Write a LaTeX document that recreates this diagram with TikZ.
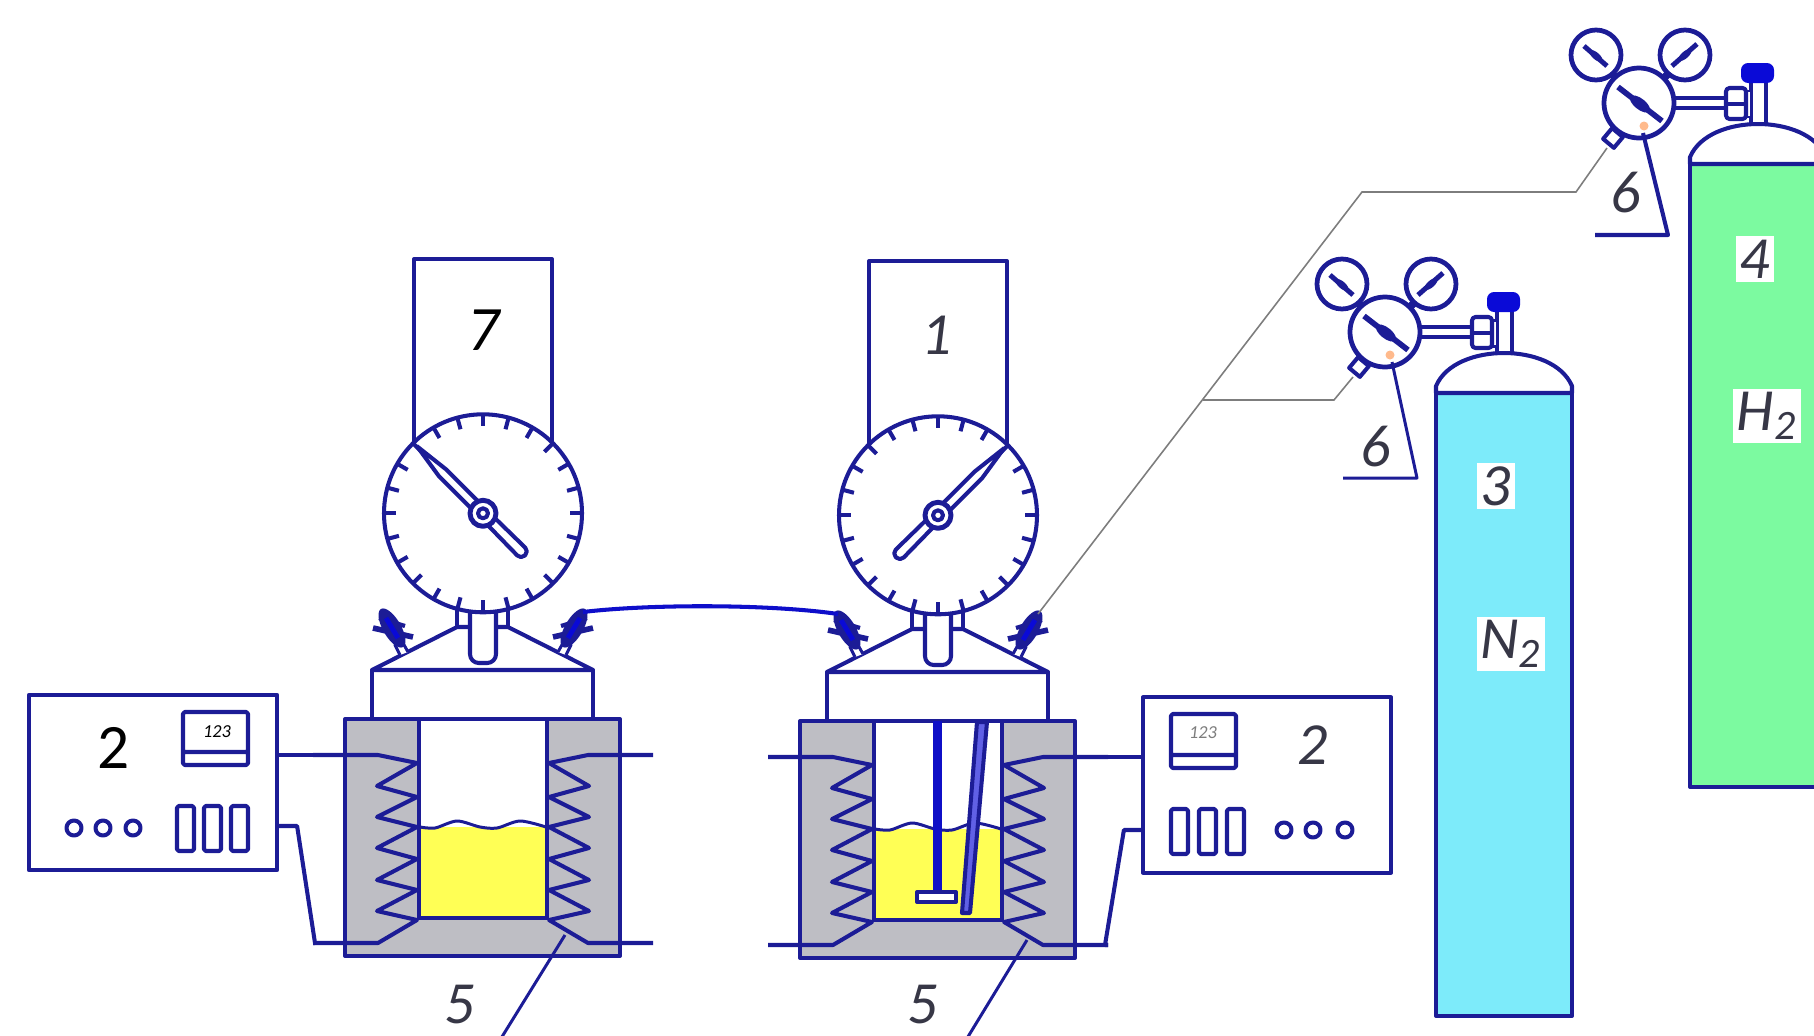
\documentclass[tikz,border=0pt]{standalone}
\usepackage{fontspec}
\setmainfont{Liberation Sans}
\newfontfamily\calfont{Carlito}
\usepackage{xcolor}
\definecolor{wireblue}{RGB}{28, 28, 150}
\definecolor{capblue}{RGB}{10, 10, 215}
\definecolor{jacketgray}{RGB}{190, 190, 196}
\definecolor{liquidyellow}{RGB}{255, 255, 85}
\definecolor{nitrogencyan}{RGB}{125, 235, 250}
\definecolor{hydrogengreen}{RGB}{124, 250, 160}
\definecolor{gasgray}{RGB}{125, 125, 125}
\definecolor{tagslate}{RGB}{55, 55, 70}
\usetikzlibrary{arrows.meta, positioning, calc}

\tikzset{
    line/.style={draw=wireblue, line width=1.15pt, line join=round},
    thin line/.style={draw=wireblue, line width=0.85pt, line join=round},
    gas line/.style={draw=gasgray, line width=0.45pt},
    panel/.style={line, minimum width=2.48cm, minimum height=1.75cm, inner sep=0pt},
    tag/.style={font=\calfont\fontsize{17}{17}\selectfont\itshape, text=tagslate, inner sep=0pt},
    patched tag/.style={tag, fill=white, inner sep=1pt},
    black tag/.style={font=\calfont\fontsize{18}{18}\selectfont, text=black, inner sep=0pt},
    readout/.style={font=\calfont\fontsize{5.2}{5.2}\selectfont\itshape, inner sep=0pt}
}

\begin{document}
\begin{tikzpicture}[x=0.01cm, y=-0.01cm]
    \clip (0,0) rectangle (1814,1036);

    % the two reactors
    \foreach \n/\dx/\dy/\mx in {1/0/0/1, 2/455/2/-1} {
        \begin{scope}[shift={(483+\dx,\dy)}]
            \draw[line, fill=jacketgray] (-138,719) rectangle (137,956);
            \draw[line, fill=white] (-64,719) rectangle (64,918);
            \fill[liquidyellow] (-62,827) rectangle (62,916);
            \draw[thin line, smooth] plot coordinates {(-63,827) (-48,828) (-26,821) (-3,827) (14,828) (37,821) (63,827)};
            \draw[line] (-69,450) -- (-69,259) -- (69,259) -- (69,450);
            \draw[line, fill=white] (-111,670) rectangle (110,719);
            \draw[line, fill=white] (-26,608) rectangle (25,627);
            \draw[line, fill=white] (-26,627) -- (-111,670) -- (110,670) -- (25,627) -- cycle;
            \draw[line, fill=white, rounded corners=2.5pt] (-13,612) -- (-13,663) -- (13,663) -- (13,612);
            \foreach \sx/\sd in {1/L, -1/R} {
                \begin{scope}[xscale=\sx]
                    \draw[line] (-170,755) coordinate (hi\n\sd) -- (-105,755) -- (-66,763) -- (-106,786) -- (-66,797)
                        -- (-106,817) -- (-66,827) -- (-106,848) -- (-66,859) -- (-106,880) -- (-66,890)
                        -- (-106,911) -- (-66,920) -- (-105,943) -- (-170,943) coordinate (lo\n\sd);
                    % valve on the lid
                    \draw[thin line, fill=white] (-83,655) -- (-88,645) -- (-80,643) -- (-75,652);
                    \fill[wireblue] (-91,628) ellipse [x radius=22, y radius=9, rotate=-60];
                    \draw[line, line width=1.6pt] (-110,628) -- (-70,637);
                    \draw[line, line width=1.2pt] (-104,618) -- (-78,626);
                    \draw[capblue, line width=1.4pt] (-97,618) -- (-85,638);
                    \coordinate (tip\n\sd) at (-100,612);
                \end{scope}
            }
            % gauge
            \begin{scope}[yshift=-5.13cm]
                \draw[line, fill=white] (0,0) circle (99);
                \foreach \a in {0,15,...,345} {
                    \draw[line] (\a:99) -- (\a:87);
                }
                \begin{scope}[xscale=\mx]
                    \draw[line, fill=white] (-66,-67) -- (-44,-37) -- (-8,-1) -- (-1,-8) -- (-37,-44) -- cycle;
                    \draw[line, fill=white, rounded corners=1.5pt] (8,1) -- (46,38) -- (38,46) -- (1,8) -- cycle;
                \end{scope}
                \draw[line, fill=white, line width=1.4pt] (0,0) circle (13);
                \draw[line] (0,0) circle (5);
            \end{scope}
        \end{scope}
    }

    % stirrer and dip tube of the second reactor
    \fill[capblue!75!wireblue] (933,721) rectangle (942,903);
    \draw[line, fill=white] (917,892) rectangle (956,902);
    \draw[line, fill=capblue!65!white] (977,722) -- (987,722) -- (970,913) -- (962,913) -- cycle;

    % link between the reactors
    \draw[line, draw=capblue!80!wireblue] (tip1R) .. controls (650,604) and (770,604) .. (tip2L);

    % cylinders and regulators
    \foreach \gas/\dx/\dy/\col in {N/0/0/nitrogencyan, H/254/-229/hydrogengreen} {
        \begin{scope}[shift={(\dx,\dy)}]
            \draw[line, fill=\col] (1436,393) rectangle (1572,1016);
            \draw[line, fill=white] (1436,393) -- (1436,386) .. controls (1446,363) and (1476,353) .. (1504,353)
                .. controls (1532,353) and (1562,363) .. (1572,386) -- (1572,393) -- cycle;
            \draw[line, fill=white] (1497,353) rectangle (1512,310);
            \fill[capblue, rounded corners=2pt] (1487,292) rectangle (1520,312);
            \draw[thin line, fill=white] (1492,320) rectangle (1497,346);
            \draw[line, fill=white, rounded corners=1pt] (1472,317) rectangle (1492,348);
            \draw[line] (1472,333) -- (1492,333);
            \draw[line] (1420,327) -- (1472,327) (1420,337) -- (1472,337);
            \draw[line, line width=2.2pt] (1358,303) -- (1363,308) (1414,303) -- (1409,308);
            \draw[line, fill=white, shift={(1359,367)}, rotate=-40] (-7,-7) rectangle (7,7);
            \coordinate (out\gas) at (1353,377);
            \draw[line, line width=1.35pt, fill=white] (1342,284) circle (25);
            \draw[line, line width=1.35pt, fill=white] (1431,284) circle (25);
            \draw[line, line width=1.35pt, fill=white] (1385,332) circle (35);
            \draw[line, line width=1.6pt] (1364,316) -- (1408,350);
            \fill[wireblue] (1386,333) ellipse [x radius=12, y radius=5.5, rotate=-38];
            \draw[line, line width=1.4pt] (1330,275) -- (1353,295);
            \fill[wireblue] (1342,285) ellipse [x radius=8, y radius=3.5, rotate=-41];
            \draw[line, line width=1.4pt] (1418,295) -- (1443,273);
            \fill[wireblue] (1431,284) ellipse [x radius=8, y radius=3.5, rotate=41];
            \fill[red!60!yellow!45!white] (1390,355) circle (4.5);
        \end{scope}
    }

    % gas lines
    \coordinate (bendUp) at (1362,192);
    \coordinate (bendTop) at (1576,192);
    \coordinate (branchGas) at (1203,400);
    \coordinate (bendLow) at (1334,400);
    \draw[gas line] (tip2R) -- (bendUp) -- (bendTop) -- (outH);
    \draw[gas line] (branchGas) -- (bendLow) -- (outN);

    % control units
    \node[panel] (unitL) at (153,782.5) {};
    \node[panel] (unitR) at (1267,785) {};
    \draw[line, rounded corners=0.5pt] (183,712) rectangle (248,765) (183,752) -- (248,752);
    \draw[line, rounded corners=0.5pt] (1171,714) rectangle (1236,768) (1171,755) -- (1236,755);
    \node[readout] (readL) at (217,732) {123};
    \node[readout, text=gasgray] (readR) at (1203,733) {123};
    \foreach \bx in {177,204,231} {
        \draw[line, rounded corners=0.5pt] (\bx,806) rectangle +(17,45);
    }
    \foreach \bx in {1171,1199,1227} {
        \draw[line, rounded corners=0.5pt] (\bx,809) rectangle +(17,45);
    }
    \foreach \cx in {74,103,133} {
        \draw[line] (\cx,828) circle (7.5);
    }
    \foreach \cx in {1284,1313,1345} {
        \draw[line] (\cx,830) circle (7.5);
    }
    \draw[line] (unitL.east |- hi1L) -- (hi1L);
    \draw[line] (unitL.east |- 0,826) -- +(18,0) -- (315,943) -- (lo1L);
    \draw[line] (unitR.west |- hi2R) -- (hi2R);
    \draw[line] (unitR.west |- 0,830) -- +(-17,0) -- (1105,945) -- (lo2R);

    % leaders
    \coordinate (heatL) at (565,935);
    \coordinate (heatR) at (1027,940);
    \draw[thin line] (heatL) -- (500,1040);
    \draw[thin line] (heatR) -- (966,1040);
    \draw[thin line] (1392,362) -- (1417,478) -- (1343,478);
    \draw[line] (1643,133) -- (1668,235) -- (1595,235);

    % labels
    \node[black tag, font=\calfont\fontsize{18}{18}\selectfont\itshape] (tagSeven) at (484,330) {7};
    \node[black tag] (tagTwoL) at (114,748) {2};
    \node[tag] (tagOne) at (937,335) {1};
    \node[tag] (tagTwoR) at (1313,745) {2};
    \node[tag] (tagFiveL) at (460,1005) {5};
    \node[tag] (tagFiveR) at (923,1005) {5};
    \node[tag] (tagSixN) at (1376,447) {6};
    \node[tag] (tagSixH) at (1626,193) {6};
    \node[patched tag] (tagThree) at (1496,486) {3};
    \node[patched tag] (tagFour) at (1755,259) {4};
    \node[patched tag] (tagNitrogen) at (1511,644) {N\textsubscript{2}};
    \node[patched tag] (tagHydrogen) at (1767,416) {H\textsubscript{2}};
\end{tikzpicture}
\end{document}
